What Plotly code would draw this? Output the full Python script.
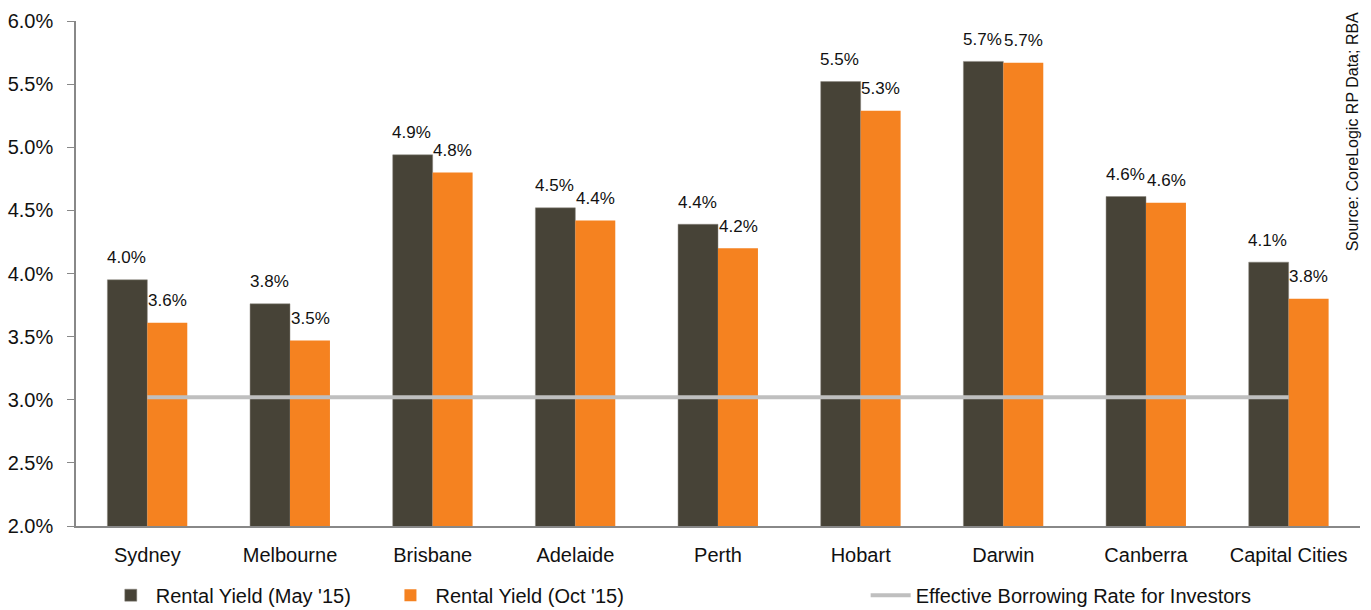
import plotly.graph_objects as go

categories = ["Sydney", "Melbourne", "Brisbane", "Adelaide", "Perth",
              "Hobart", "Darwin", "Canberra", "Capital Cities"]
yield_may15 = [3.95, 3.76, 4.94, 4.52, 4.39, 5.52, 5.68, 4.61, 4.09]
yield_oct15 = [3.61, 3.47, 4.80, 4.42, 4.20, 5.29, 5.67, 4.56, 3.80]
borrowing_rate = [3.02] * len(categories)
y_ticks = [2.0, 2.5, 3.0, 3.5, 4.0, 4.5, 5.0, 5.5, 6.0]
y_tick_labels = [f"{t:.1f}%" for t in y_ticks]

FONT = "Liberation Sans Narrow, Arial Narrow, Liberation Sans, Arial, sans-serif"
DARK = "#474337"
ORANGE = "#F58220"
GREY = "#BFBFBF"

fig = go.Figure()
fig.add_trace(go.Bar(x=categories, y=yield_may15, name="Rental Yield (May '15)",
                     marker=dict(color=DARK, line=dict(color="#8a877e", width=0.5)),
                     legend="legend2"))
fig.add_trace(go.Bar(x=categories, y=yield_oct15, name="Rental Yield (Oct '15)",
                     marker=dict(color=ORANGE, line=dict(width=0)),
                     legend="legend3"))
fig.add_trace(go.Scatter(x=categories, y=borrowing_rate, mode="lines",
                         name="Effective Borrowing Rate for Investors",
                         line=dict(color=GREY, width=4), legend="legend4"))

# value labels above bars
for series, shift in ((yield_may15, -21), (yield_oct15, 20)):
    for c, v in zip(categories, series):
        fig.add_annotation(x=c, y=v, text=f"{v:.1f}%", showarrow=False,
                           xshift=shift, yshift=22, yanchor="middle",
                           font=dict(family=FONT, size=17, color="#111"))

fig.add_annotation(xref="paper", yref="paper", x=0.9938, y=0.78,
                   text="Source: CoreLogic RP Data; RBA", textangle=-90,
                   showarrow=False, xanchor="center", yanchor="middle",
                   font=dict(family=FONT, size=16, color="#111"))

legend_common = dict(orientation="h", yanchor="middle", y=-0.137, xanchor="left",
                     font=dict(family=FONT, size=20, color="#111"),
                     bgcolor="rgba(0,0,0,0)", itemwidth=40, visible=True)

fig.update_layout(
    width=1371, height=610,
    margin=dict(l=76, r=11, t=21, b=84, autoexpand=False),
    paper_bgcolor="white", plot_bgcolor="white",
    barmode="group", bargap=0.44, bargroupgap=0,
    showlegend=True,
    font=dict(family=FONT, size=20, color="#111"),
    legend2=dict(x=0.0232, **legend_common),
    legend3=dict(x=0.241, **legend_common),
    legend4=dict(x=0.615, **legend_common),
    xaxis=dict(showline=True, linecolor="#888", linewidth=1.5, ticks="",
               ticklabelstandoff=10,
               tickfont=dict(family=FONT, size=20, color="#111"), showgrid=False),
    yaxis=dict(range=[2.0, 6.0], tickvals=y_ticks, ticktext=y_tick_labels,
               showline=True, linecolor="#888", linewidth=1.5, ticks="outside",
               tickcolor="#888", ticklen=7, showgrid=False, zeroline=False,
               ticklabelstandoff=10,
               tickfont=dict(family=FONT, size=20, color="#111")),
)

fig.write_html("out.html")
